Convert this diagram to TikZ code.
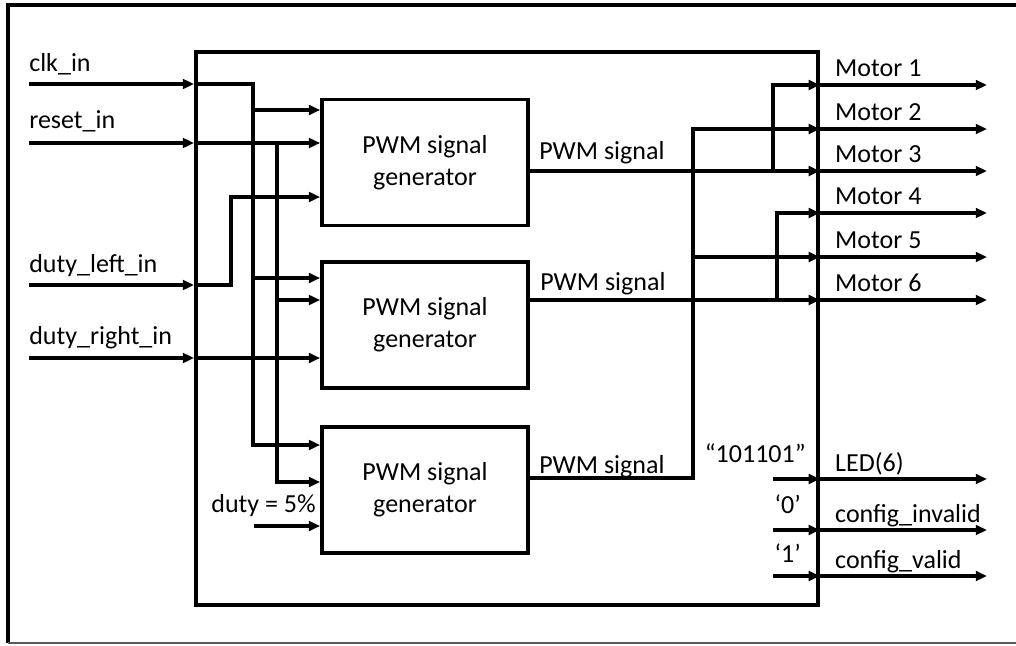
\documentclass[tikz,border=0pt]{standalone}
\usepackage{fontspec}
\setmainfont{Carlito}
\usetikzlibrary{arrows.meta,positioning,calc}
\tikzset{
  sigwire/.style={line width=2.6pt},
  sigarrow/.style={sigwire, -{Triangle[length=0.28cm, width=0.24cm]}},
  pwmbox/.style={draw, sigwire, align=center, inner sep=0pt,
    minimum width=5.15cm, minimum height=3.15cm},
  siglabel/.style={anchor=base west, inner sep=0pt},
  constlabel/.style={anchor=base east, inner sep=0pt}
}

\begin{document}
\begin{tikzpicture}[x=0.025cm, y=-0.025cm,
    font=\fontsize{18.5}{22.8}\selectfont]
    \useasboundingbox (0,0) rectangle (1016,645);
    % outer frame
    \draw[line width=3pt] (8,643) -- (8,5) -- (1016,5);
    \draw[black!65, line width=1.2pt] (8,643) -- (1016,643);

    % top level block and generators
    \node[draw, sigwire, inner sep=0pt, minimum width=15.55cm,
      minimum height=13.825cm] (core) at (507,328.5) {};
    \node[pwmbox] (gen1) at (425,162.5) {PWM signal\\generator};
    \node[pwmbox] (gen2) at (425,325) {PWM signal\\generator};
    \node[pwmbox] (gen3) at (425,490) {PWM signal\\generator};

    % inputs
    \coordinate (clk) at (29,84);
    \coordinate (rst) at (29,143);
    \coordinate (dleft) at (29,285);
    \coordinate (dright) at (29,358);
    \coordinate (dlx) at (231,0);
    \coordinate (clkx) at (253,0);
    \coordinate (rstx) at (277,0);
    \coordinate (fixduty) at (254,526);
    \foreach \pin in {clk,rst,dleft,dright}
      \draw[sigarrow] (\pin) -- (\pin -| core.west);
    \node[siglabel] at (29,71) {clk\_in};
    \node[siglabel] at (29,128) {reset\_in};
    \node[siglabel] at (29,272) {duty\_left\_in};
    \node[siglabel] at (29,344) {duty\_right\_in};

    % clock bus
    \draw[sigarrow] (clk -| core.west) -| (clkx |- 0,445) -- (gen3.west |- 0,445);
    \draw[sigarrow] (clkx |- 0,110) -- (gen1.west |- 0,110);
    \draw[sigarrow] (clkx |- 0,278) -- (gen2.west |- 0,278);
    % reset bus
    \draw[sigarrow] (rst -| core.west) -- (rst -| gen1.west);
    \draw[sigarrow] (rstx |- rst) -- (rstx |- 0,482) -- (gen3.west |- 0,482);
    \draw[sigarrow] (rstx |- 0,300) -- (gen2.west |- 0,300);
    % duty cycles
    \draw[sigarrow] (dleft -| core.west) -| (dlx |- 0,197) -- (gen1.west |- 0,197);
    \draw[sigarrow] (dright -| core.west) -- (dright -| gen2.west);
    \draw[sigarrow] (fixduty) -- (fixduty -| gen3.west);
    \node[constlabel] at (316,512) {duty = 5\%};

    % motor outputs
    \foreach \y [count=\i] in {85,129,171,213,257,300} {
      \coordinate (motor\i) at (987,\y);
      \draw[sigarrow] (core.east |- motor\i) -- (motor\i);
      \node[siglabel] at ($(core.east |- motor\i)+(15,-9)$) {Motor \i};
    }
    \draw[sigarrow] (gen1.east |- motor3) -- (core.east |- motor3);
    \draw[sigarrow] (773,171) |- (core.east |- motor1);
    \draw[sigarrow] (gen2.east |- motor6) -- (core.east |- motor6);
    \draw[sigarrow] (777,300) |- (core.east |- motor4);
    \draw[sigarrow] (gen3.east |- 0,478) -| (693,129) -- (core.east |- motor2);
    \draw[sigarrow] (693,257) -- (core.east |- motor5);
    \node[siglabel] at (539,159) {PWM signal};
    \node[siglabel] at (540,290) {PWM signal};
    \node[siglabel] at (539,473) {PWM signal};

    % constant outputs
    \foreach \y/\txt in {479/LED(6), 530/config\_invalid, 576/config\_valid} {
      \coordinate (out) at (987,\y);
      \draw[sigarrow] (773,\y) -- (core.east |- out);
      \draw[sigarrow] (core.east |- out) -- (out);
      \node[siglabel] at ($(core.east |- out)+(15,-8)$) {\txt};
    }
    \node[constlabel] at (806,462) {“101101”};
    \node[constlabel] at (801,513) {‘0’};
    \node[constlabel] at (801,562) {‘1’};
  \end{tikzpicture}
\end{document}
